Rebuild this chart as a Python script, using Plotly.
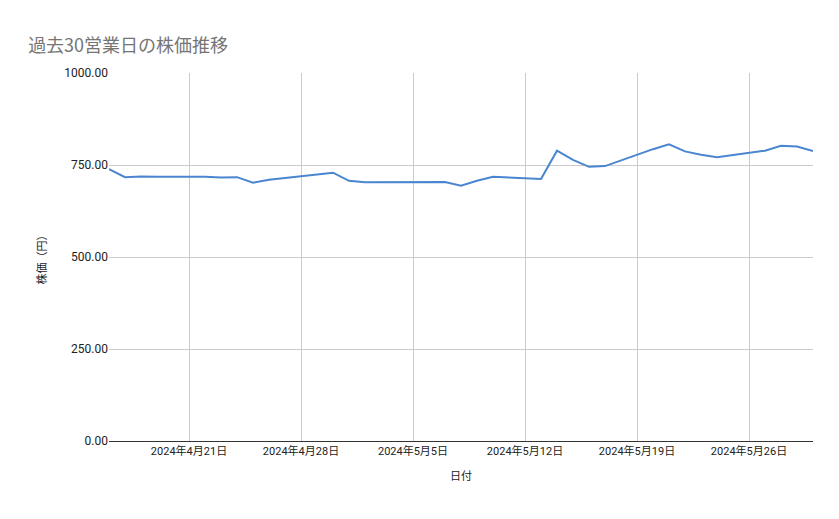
import plotly.graph_objects as go

dates = ["2024-04-16","2024-04-17","2024-04-18","2024-04-19","2024-04-22","2024-04-23","2024-04-24","2024-04-25","2024-04-26","2024-04-30",
         "2024-05-01","2024-05-02","2024-05-07","2024-05-08","2024-05-09","2024-05-10","2024-05-13","2024-05-14","2024-05-15","2024-05-16",
         "2024-05-17","2024-05-20","2024-05-21","2024-05-22","2024-05-23","2024-05-24","2024-05-27","2024-05-28","2024-05-29","2024-05-30"]
prices = [739,717,719,718,718,716,717,702,710,729,
          707,703,704,694,707,718,712,789,764,745,
          747,793,806,787,778,771,789,802,800,788]
tick_dates = ["2024-04-21","2024-04-28","2024-05-05","2024-05-12","2024-05-19","2024-05-26"]
tick_labels = ["2024年4月21日","2024年4月28日","2024年5月5日","2024年5月12日","2024年5月19日","2024年5月26日"]
y_ticks = [0,250,500,750,1000]
y_labels = ["0.00","250.00","500.00","750.00","1000.00"]

fig = go.Figure(go.Scatter(x=dates, y=prices, mode="lines", line=dict(color="#4a86d0", width=2)))
fig.update_layout(
    width=839, height=519, margin=dict(l=101, r=34, t=65, b=86),
    paper_bgcolor="white", plot_bgcolor="white", showlegend=False,
    font=dict(family="Roboto, Noto Sans CJK JP, sans-serif", size=12, color="#222"),
    title=dict(text="過去30営業日の株価推移", x=0.024, xanchor="left", y=0.928, yanchor="middle",
               font=dict(size=18, color="#757575", family="Noto Sans CJK JP")),
)
fig.update_xaxes(range=["2024-04-16","2024-05-30"], tickvals=tick_dates, ticktext=tick_labels,
                 showgrid=True, gridcolor="#cccccc", showline=True, linecolor="#333", ticks="",
                 title=dict(text="日付", font=dict(size=11)), tickfont=dict(size=11))
fig.update_yaxes(range=[0,1000], tickvals=y_ticks, ticktext=y_labels, showgrid=True, gridcolor="#cccccc",
                 zeroline=False, title=dict(text="株価（円）", font=dict(size=11)), tickfont=dict(size=12))
fig.write_html("out.html")
